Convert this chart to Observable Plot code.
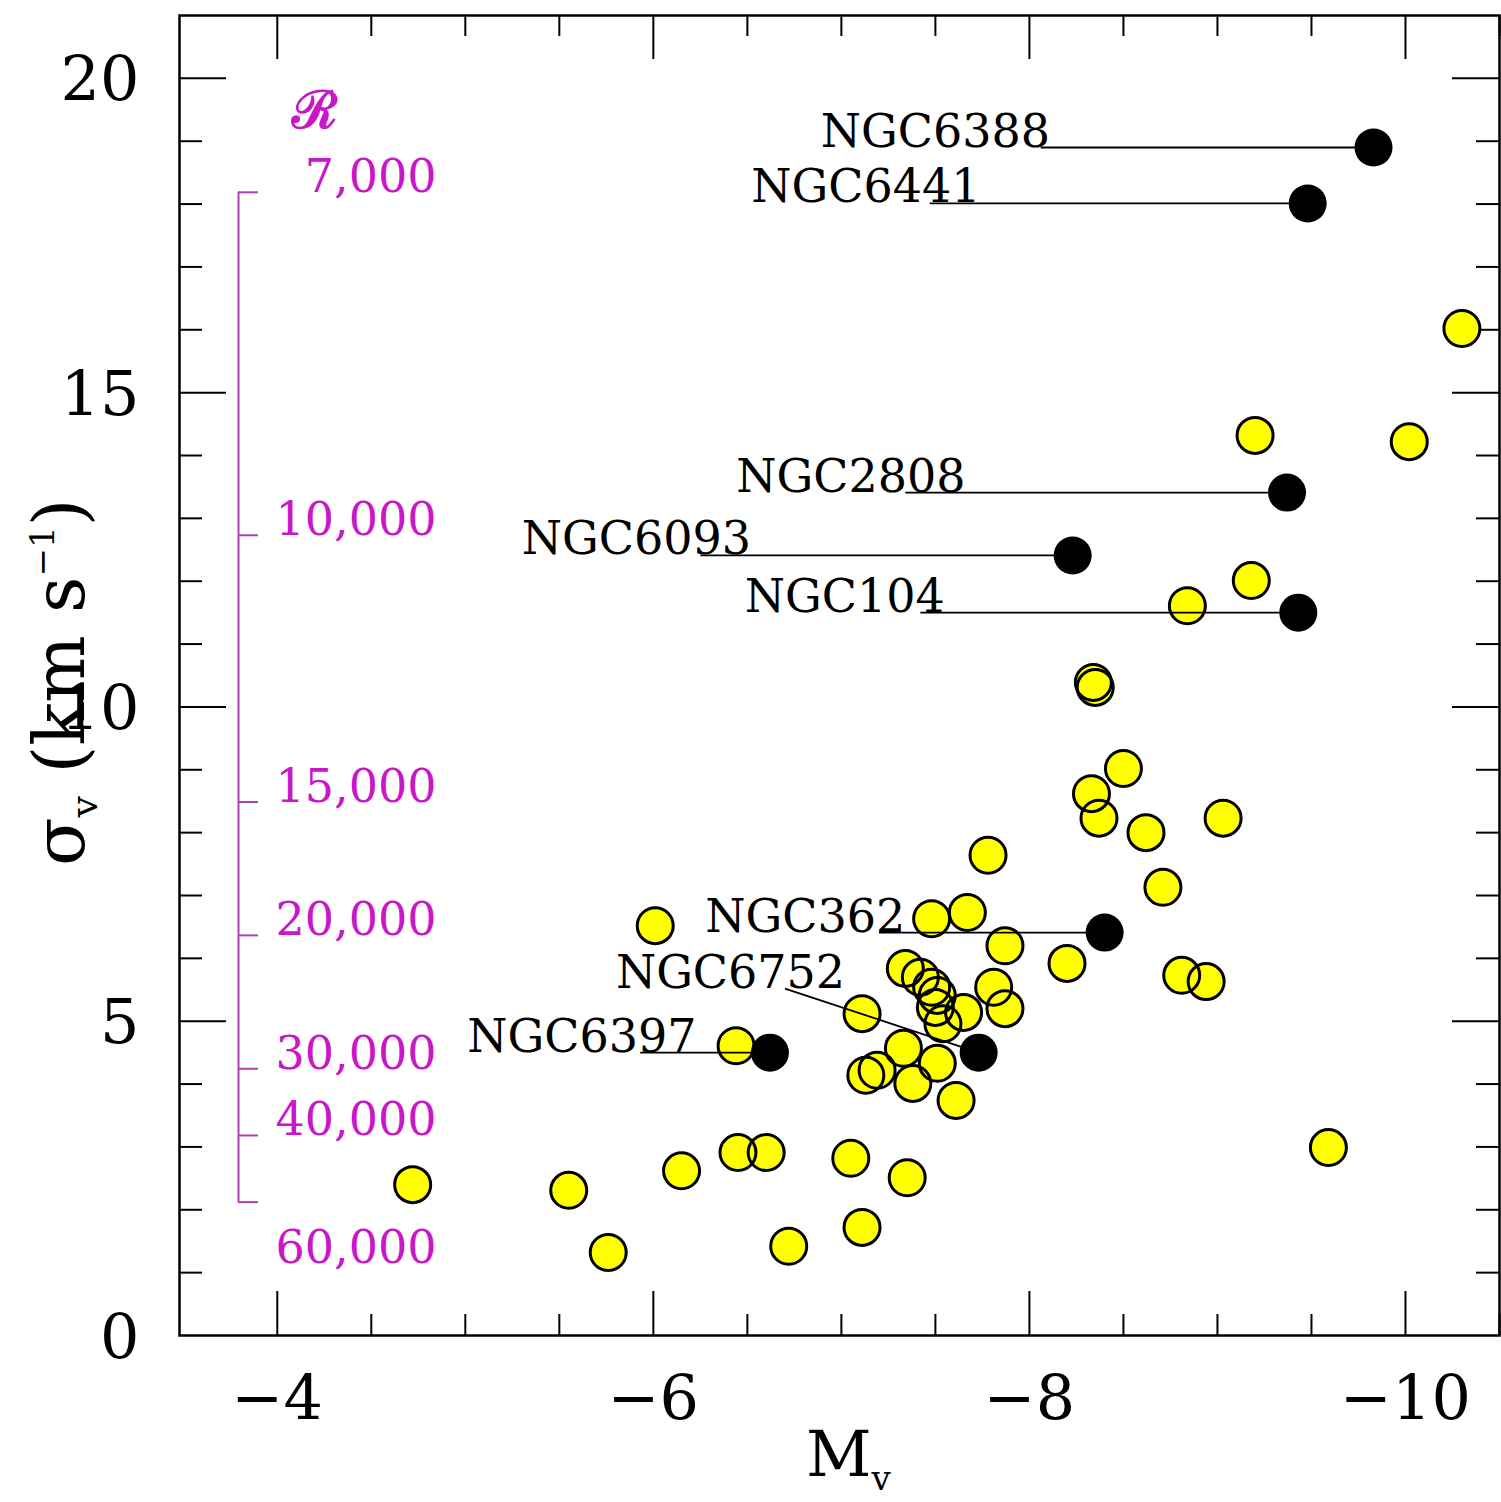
<!DOCTYPE html>
<html>
<head>
<meta charset="utf-8">
<script src="https://cdn.jsdelivr.net/npm/d3@7"></script>
<script src="https://cdn.jsdelivr.net/npm/@observablehq/plot@0.6"></script>
<style>
html, body { margin: 0; padding: 0; background: #ffffff; }
svg { display: block; }
</style>
</head>
<body>
<div id="chart"></div>
<script>
// ---- data ----
const yellowMv = [-4.72,-5.55,-5.76,-6.01,-6.15,-6.44,-6.45,-6.60,-6.72,-7.05,-7.11,-7.11,-7.13,-7.19,-7.33,-7.35,-7.34,-7.38,-7.42,-7.48,-7.48,-7.51,-7.50,-7.51,-7.54,-7.61,-7.65,-7.67,-7.78,-7.81,-7.87,-7.87,-8.20,-8.33,-8.34,-8.35,-8.37,-8.50,-8.62,-8.71,-8.81,-8.84,-8.94,-9.03,-9.18,-9.20,-9.59,-10.02,-10.30];
const yellowSigma = [2.40,2.31,1.32,6.52,2.62,4.61,2.91,2.91,1.42,2.82,1.72,5.12,4.14,4.22,4.57,2.51,5.84,4.01,5.70,6.63,5.54,5.41,5.22,4.33,4.96,3.74,5.14,6.73,7.64,5.54,5.20,6.20,5.92,8.62,10.39,10.31,8.23,9.02,8.00,7.13,5.73,11.61,5.63,8.23,12.01,14.32,2.99,14.22,16.02];

const namedClusters = ["NGC6388","NGC6441","NGC2808","NGC6093","NGC104","NGC362","NGC6752","NGC6397"];
const namedMv = [-9.83,-9.48,-9.37,-8.23,-9.43,-8.40,-7.73,-6.62];
const namedSigma = [18.90,18.01,13.41,12.41,11.50,6.41,4.50,4.50];
const labelEndMv = [-8.11,-7.74,-7.66,-6.52,-7.55,-7.34,-7.02,-6.23];
const lineStartMv = [-8.06,-7.47,-7.34,-6.25,-7.42,-7.20,-6.70,-5.93];
const lineStartSigma = [18.90,18.01,13.41,12.41,11.50,6.41,5.52,4.50];

const resolutionTicks = [7000,10000,15000,20000,30000,40000,60000];
const resolutionLabels = ["7,000","10,000","15,000","20,000","30,000","40,000","60,000"];

const xTickValues = [-4,-6,-8,-10];
const xTickLabels = ["\u22124","\u22126","\u22128","\u221210"];
const yTickValues = [0,5,10,15,20];
const yTickLabels = ["0","5","10","15","20"];

// ---- layout ----
const W = 1501, H = 1502;
const mL = 179, mR = 2, mT = 15, mB = 167;
const xDomain = [-3.48, -10.5];
const yDomain = [0, 21];
const pxPerX = (W - mL - mR) / Math.abs(xDomain[1] - xDomain[0]);
const pxPerY = (H - mT - mB) / (yDomain[1] - yDomain[0]);
const MAG = "#c816c8";
const MAGLINE = "#b040b0";

// sigma corresponding to resolving power R: sigma = c / (2.3548 R)
const cKms = 299792.458;
const fwhmFactor = 2 * Math.sqrt(2 * Math.log(2));
const sigmaOfR = R => cKms / (fwhmFactor * R);

const yellow = yellowMv.map((m, i) => ({Mv: m, sigma: yellowSigma[i]}));
const named = namedClusters.map((n, i) => ({
  name: n, Mv: namedMv[i], sigma: namedSigma[i],
  textMv: labelEndMv[i], lsMv: lineStartMv[i], lsSigma: lineStartSigma[i]
}));

const xMinor = d3.range(-4, -10.51, -0.5);
const yMinor = d3.range(1, 21, 1);
const isMajorX = d => Math.abs(d / 2 - Math.round(d / 2)) < 1e-6;
const isMajorY = d => d % 5 === 0;
const xLen = d => (isMajorX(d) ? 44 : 21) / pxPerY;
const yLen = d => (isMajorY(d) ? 47 : 23) / pxPerX;

const rAxisMv = xDomain[0] - 59 / pxPerX;
const rLabelMv = xDomain[0] - 257 / pxPerX;

const chart = Plot.plot({
  width: W, height: H,
  marginLeft: mL, marginRight: mR, marginTop: mT, marginBottom: mB,
  x: {domain: xDomain, axis: null},
  y: {domain: yDomain, axis: null},
  style: {fontFamily: "DejaVu Serif", background: "#ffffff", color: "#000"},
  marks: [
    // ticks on all four sides, pointing inward
    Plot.ruleX(xMinor, {x: d => d, y1: yDomain[0], y2: d => yDomain[0] + xLen(d), stroke: "#000", strokeWidth: 2}),
    Plot.ruleX(xMinor, {x: d => d, y1: yDomain[1], y2: d => yDomain[1] - xLen(d), stroke: "#000", strokeWidth: 2}),
    Plot.ruleY(yMinor, {y: d => d, x1: xDomain[0], x2: d => xDomain[0] - yLen(d), stroke: "#000", strokeWidth: 2}),
    Plot.ruleY(yMinor, {y: d => d, x1: xDomain[1], x2: d => xDomain[1] + yLen(d), stroke: "#000", strokeWidth: 2}),
    Plot.frame({stroke: "#000", strokeWidth: 2.5}),
    // tick labels
    Plot.text(xTickValues, {x: d => d, frameAnchor: "bottom", dy: 83, lineAnchor: "bottom",
      text: (d, i) => xTickLabels[i], fontSize: 62, fill: "#000"}),
    Plot.text(yTickValues, {y: d => d, frameAnchor: "left", dx: -40, dy: 22, lineAnchor: "bottom",
      textAnchor: "end", text: (d, i) => yTickLabels[i], fontSize: 62, fill: "#000"}),
    // resolving-power scale (magenta)
    Plot.ruleX([rAxisMv], {x: d => d, y1: sigmaOfR(60000), y2: sigmaOfR(7000), stroke: MAGLINE, strokeWidth: 2}),
    Plot.ruleY(resolutionTicks, {y: R => sigmaOfR(R), x1: rAxisMv, x2: rAxisMv - 20 / pxPerX, stroke: MAGLINE, strokeWidth: 2}),
    Plot.text(resolutionTicks.slice(0, 6), {x: rLabelMv, y: R => sigmaOfR(R), text: (R, i) => resolutionLabels[i],
      textAnchor: "end", lineAnchor: "bottom", dy: 0, fontSize: 46, fill: MAG}),
    Plot.text(resolutionTicks.slice(6), {x: rLabelMv, y: R => sigmaOfR(R), text: (R, i) => resolutionLabels[6 + i],
      textAnchor: "end", lineAnchor: "bottom", dy: 61, fontSize: 46, fill: MAG}),
    Plot.text(["\u211B"], {x: xDomain[0] - 135 / pxPerX, y: sigmaOfR(7000), text: d => d, dy: -64,
      lineAnchor: "bottom", fontSize: 52, fontWeight: "bold", fill: MAG}),
    // yellow clusters: fills first, then outlines on top
    Plot.dot(yellow, {x: "Mv", y: "sigma", r: 18, fill: "#ffff00", stroke: "none"}),
    Plot.dot(yellow, {x: "Mv", y: "sigma", r: 18, fill: "none", stroke: "#000", strokeWidth: 3}),
    // connectors from labels to the named clusters
    Plot.link(named, {x1: "lsMv", y1: "lsSigma", x2: "Mv", y2: "sigma", stroke: "#000", strokeWidth: 1.8}),
    Plot.dot(named, {x: "Mv", y: "sigma", r: 19, fill: "#000", stroke: "none"}),
    Plot.text(named, {x: "textMv", y: "lsSigma", text: "name", textAnchor: "end", lineAnchor: "bottom",
      dy: -1, fontSize: 46, fill: "#000"})
  ]
});

document.getElementById("chart").appendChild(chart);

// axis titles with sub/superscripts
const svg = d3.select(chart);
const xt = svg.append("text")
  .attr("x", 806).attr("y", 1476).attr("text-anchor", "start")
  .attr("font-family", "DejaVu Serif").attr("font-size", 64).attr("fill", "#000");
xt.append("tspan").text("M");
xt.append("tspan").attr("dy", 14).attr("font-size", 34).text("v");

const yt = svg.append("text")
  .attr("transform", "translate(84,866) rotate(-90)").attr("text-anchor", "start")
  .attr("font-family", "DejaVu Serif").attr("font-size", 71).attr("fill", "#000");
yt.append("tspan").text("\u03C3");
yt.append("tspan").attr("dy", 13).attr("font-size", 38).text("v");
yt.append("tspan").attr("dy", -13).text(" (km s");
yt.append("tspan").attr("dy", -30).attr("font-size", 34).text("\u22121");
yt.append("tspan").attr("dy", 30).text(")");
</script>
</body>
</html>
